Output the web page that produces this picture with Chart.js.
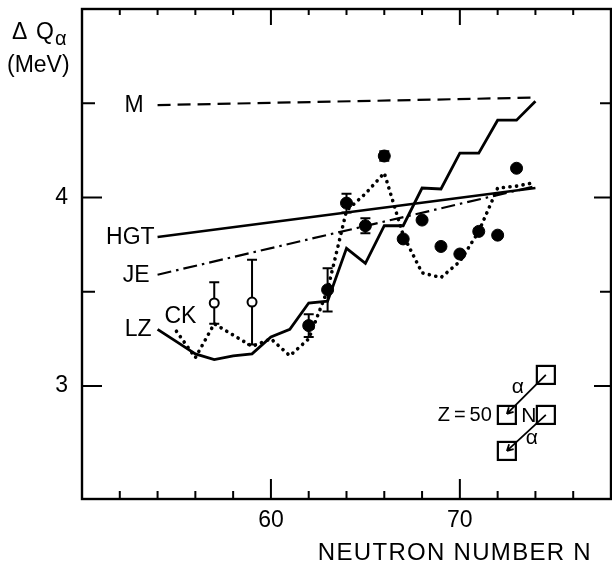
<!DOCTYPE html>
<html lang="en">
<head>
<meta charset="utf-8" />
<script src="https://cdn.jsdelivr.net/npm/chart.js@4.4.0/dist/chart.umd.min.js"></script>
<title>Delta Q alpha vs neutron number</title>
<style>
  html, body { margin: 0; padding: 0; background: #fff; }
  canvas { display: block; }
</style>
</head>
<body>
<canvas id="dq" width="612" height="567"></canvas>
<script>
// model curves (N, Delta Q_alpha in MeV)
const mN = [54, 74];
const mQ = [4.49, 4.53];
const hgtN = [54, 74];
const hgtQ = [3.79, 4.05];
const jeN = [54, 74];
const jeQ = [3.59, 4.06];
const lzN = [54, 55, 56, 57, 58, 59, 60, 61, 62, 63, 64, 65, 66, 67, 68, 69, 70, 71, 72, 73, 74];
const lzQ = [3.30, 3.235, 3.17, 3.14, 3.16, 3.17, 3.26, 3.30, 3.44, 3.45, 3.73, 3.65, 3.85, 3.85, 4.05, 4.045, 4.235, 4.235, 4.41, 4.41, 4.51];
const ckN = [55, 56, 57, 58, 59, 60, 61, 62, 63, 64, 65, 66, 67, 68, 69, 70, 71, 72, 73, 74];
const ckQ = [3.29, 3.15, 3.33, 3.27, 3.21, 3.25, 3.16, 3.25, 3.51, 3.93, 4.02, 4.13, 3.80, 3.60, 3.575, 3.66, 3.82, 4.05, 4.06, 4.08];

// measured values (filled) and systematics-derived values (open)
const expN = [62, 63, 64, 65, 66, 67, 68, 69, 70, 71, 72, 73];
const expQ = [3.32, 3.51, 3.97, 3.85, 4.22, 3.78, 3.88, 3.74, 3.70, 3.82, 3.80, 4.155];
const expErr = [0.06, 0.115, 0.05, 0.04, 0.025, 0, 0, 0, 0, 0, 0, 0];
const sysN = [57, 59];
const sysQ = [3.44, 3.445];
const sysErr = [0.11, 0.225];

// axis ticks
const xTicks = [52, 54, 56, 58, 60, 62, 64, 66, 68, 70, 72, 74, 76];
const xLabeled = [60, 70];
const yTicks = [3, 3.5, 4, 4.5];
const yLabeled = [3, 4];

const pts = (xs, ys) => xs.map((x, i) => ({ x: x, y: ys[i] }));
const FONT = '"Liberation Sans", Arial, sans-serif';

function curve(label, xs, ys, dash, width, cap) {
    return {
        label: label,
        data: pts(xs, ys),
        borderColor: "#000",
        borderWidth: width,
        borderDash: dash,
        borderCapStyle: cap || "butt",
        pointRadius: 0,
        showLine: true,
        fill: false,
        tension: 0,
    };
}

const decor = {
    id: "decor",
    beforeDatasetsDraw(chart) {
        const ctx = chart.ctx, xs = chart.scales.x, ys = chart.scales.y;
        ctx.save();
        ctx.strokeStyle = "#000";
        ctx.lineWidth = 2;
        const bar = (n, q, e) => {
            if (!e) return;
            const x = xs.getPixelForValue(n);
            const y1 = ys.getPixelForValue(q + e), y2 = ys.getPixelForValue(q - e);
            ctx.beginPath();
            ctx.moveTo(x, y1); ctx.lineTo(x, y2);
            ctx.moveTo(x - 5, y1); ctx.lineTo(x + 5, y1);
            ctx.moveTo(x - 5, y2); ctx.lineTo(x + 5, y2);
            ctx.stroke();
        };
        expN.forEach((n, i) => bar(n, expQ[i], expErr[i]));
        sysN.forEach((n, i) => bar(n, sysQ[i], sysErr[i]));
        ctx.restore();
    },
    afterDraw(chart) {
        const ctx = chart.ctx, a = chart.chartArea;
        const xs = chart.scales.x, ys = chart.scales.y;
        ctx.save();
        ctx.strokeStyle = "#000";
        ctx.fillStyle = "#000";
        ctx.lineWidth = 2.4;
        ctx.strokeRect(a.left, a.top, a.right - a.left, a.bottom - a.top);

        // inward tick marks on all four sides
        ctx.lineWidth = 2;
        ctx.beginPath();
        xTicks.forEach((v) => {
            const x = xs.getPixelForValue(v);
            const major = xLabeled.includes(v);
            ctx.moveTo(x, a.bottom); ctx.lineTo(x, a.bottom - (major ? 20 : 8));
            ctx.moveTo(x, a.top); ctx.lineTo(x, a.top + (major ? 16 : 6));
        });
        yTicks.forEach((v) => {
            const y = ys.getPixelForValue(v);
            const major = yLabeled.includes(v);
            ctx.moveTo(a.left, y); ctx.lineTo(a.left + (major ? 20 : 13), y);
            ctx.moveTo(a.right, y); ctx.lineTo(a.right - (major ? 17 : 11), y);
        });
        ctx.stroke();

        // curve names next to the start of each curve
        ctx.font = "23px " + FONT;
        ctx.textBaseline = "middle";
        const tag = (txt, n, q, dx, dy, align) => {
            ctx.textAlign = align;
            ctx.fillText(txt, xs.getPixelForValue(n) + dx, ys.getPixelForValue(q) + dy);
        };
        tag("M", mN[0], mQ[0], -14, 1, "right");
        tag("HGT", hgtN[0], hgtQ[0], -3, 1, "right");
        tag("JE", jeN[0], jeQ[0], -8, 1, "right");
        tag("LZ", lzN[0], lzQ[0], -6, 0, "right");
        tag("CK", ckN[0], ckQ[0], -12, -15, "left");

        // axis titles
        ctx.textAlign = "left";
        ctx.font = "23px " + FONT;
        ctx.fillText("\u0394", 12, 33);
        ctx.fillText("Q", 36, 33);
        ctx.font = "20px " + FONT;
        ctx.fillText("\u03b1", 55, 39);
        ctx.font = "23px " + FONT;
        ctx.fillText("(MeV)", 7, 66);
        ctx.textAlign = "right";
        ctx.font = "24px " + FONT;
        ctx.letterSpacing = "1.3px";
        ctx.fillText("NEUTRON NUMBER N", 592, 553);
        ctx.letterSpacing = "0px";

        // inset: alpha decay chain sketch
        const ox = xs.getPixelForValue(70), oy = ys.getPixelForValue(3);
        const sq = 18;
        ctx.lineWidth = 2.2;
        [[77, -20], [38, 20], [77, 20], [38, 56]].forEach((p) => {
            ctx.strokeRect(ox + p[0], oy + p[1], sq, sq);
        });
        ctx.lineWidth = 1.8;
        const arrow = (x1, y1, x2, y2) => {
            ctx.beginPath();
            ctx.moveTo(x1, y1); ctx.lineTo(x2, y2);
            const ang = Math.atan2(y2 - y1, x2 - x1);
            for (const s of [-1, 1]) {
                ctx.moveTo(x2, y2);
                ctx.lineTo(x2 - 7 * Math.cos(ang + s * 0.5), y2 - 7 * Math.sin(ang + s * 0.5));
            }
            ctx.stroke();
        };
        arrow(ox + 86, oy - 11, ox + 47, oy + 28);
        arrow(ox + 86, oy + 29, ox + 47, oy + 65);
        ctx.font = "21px " + FONT;
        ctx.textAlign = "center";
        ctx.fillText("\u03b1", ox + 58, oy + 1);
        ctx.fillText("\u03b1", ox + 72, oy + 52);
        ctx.fillText("N", ox + 69, oy + 30);
        ctx.textAlign = "right";
        ctx.font = "20px " + FONT;
        ctx.fillText("Z\u2009=\u200950", ox + 32, oy + 30);
        ctx.restore();
    },
};

new Chart(document.getElementById("dq").getContext("2d"), {
    type: "scatter",
    data: {
        datasets: [
            curve("M", mN, mQ, [13, 7], 2.2),
            curve("HGT", hgtN, hgtQ, [], 2.4),
            curve("JE", jeN, jeQ, [14, 5, 2.5, 5], 2.2),
            curve("LZ", lzN, lzQ, [], 2.8),
            curve("CK", ckN, ckQ, [0.1, 6.5], 3.6, "round"),
            {
                label: "exp",
                data: pts(expN, expQ),
                pointRadius: 6,
                pointBackgroundColor: "#000",
                pointBorderColor: "#000",
                showLine: false,
            },
            {
                label: "syst",
                data: pts(sysN, sysQ),
                pointRadius: 4.5,
                pointBorderWidth: 2,
                pointBackgroundColor: "#fff",
                pointBorderColor: "#000",
                showLine: false,
            },
        ],
    },
    options: {
        responsive: false,
        animation: false,
        layout: { autoPadding: false, padding: { top: 9, right: 1, left: 0, bottom: 0 } },
        plugins: { legend: { display: false }, tooltip: { enabled: false } },
        scales: {
            x: {
                type: "linear",
                min: 50,
                max: 78,
                afterFit: (s) => { s.height = 68; s.paddingLeft = 0; s.paddingRight = 0; },
                grid: { display: false, drawTicks: false },
                border: { display: false },
                ticks: {
                    stepSize: 2,
                    autoSkip: false,
                    maxRotation: 0,
                    padding: 8,
                    color: "#000",
                    font: { family: FONT, size: 23 },
                    callback: (v) => (xLabeled.includes(v) ? String(v) : ""),
                },
            },
            y: {
                type: "linear",
                min: 2.4,
                max: 5.0,
                afterFit: (s) => { s.width = 82; s.paddingTop = 0; s.paddingBottom = 0; },
                grid: { display: false, drawTicks: false },
                border: { display: false },
                ticks: {
                    stepSize: 0.5,
                    autoSkip: false,
                    padding: 14,
                    color: "#000",
                    font: { family: FONT, size: 23 },
                    callback: (v) => (yLabeled.includes(v) ? String(v) : ""),
                },
            },
        },
    },
    plugins: [decor],
});
</script>
</body>
</html>
